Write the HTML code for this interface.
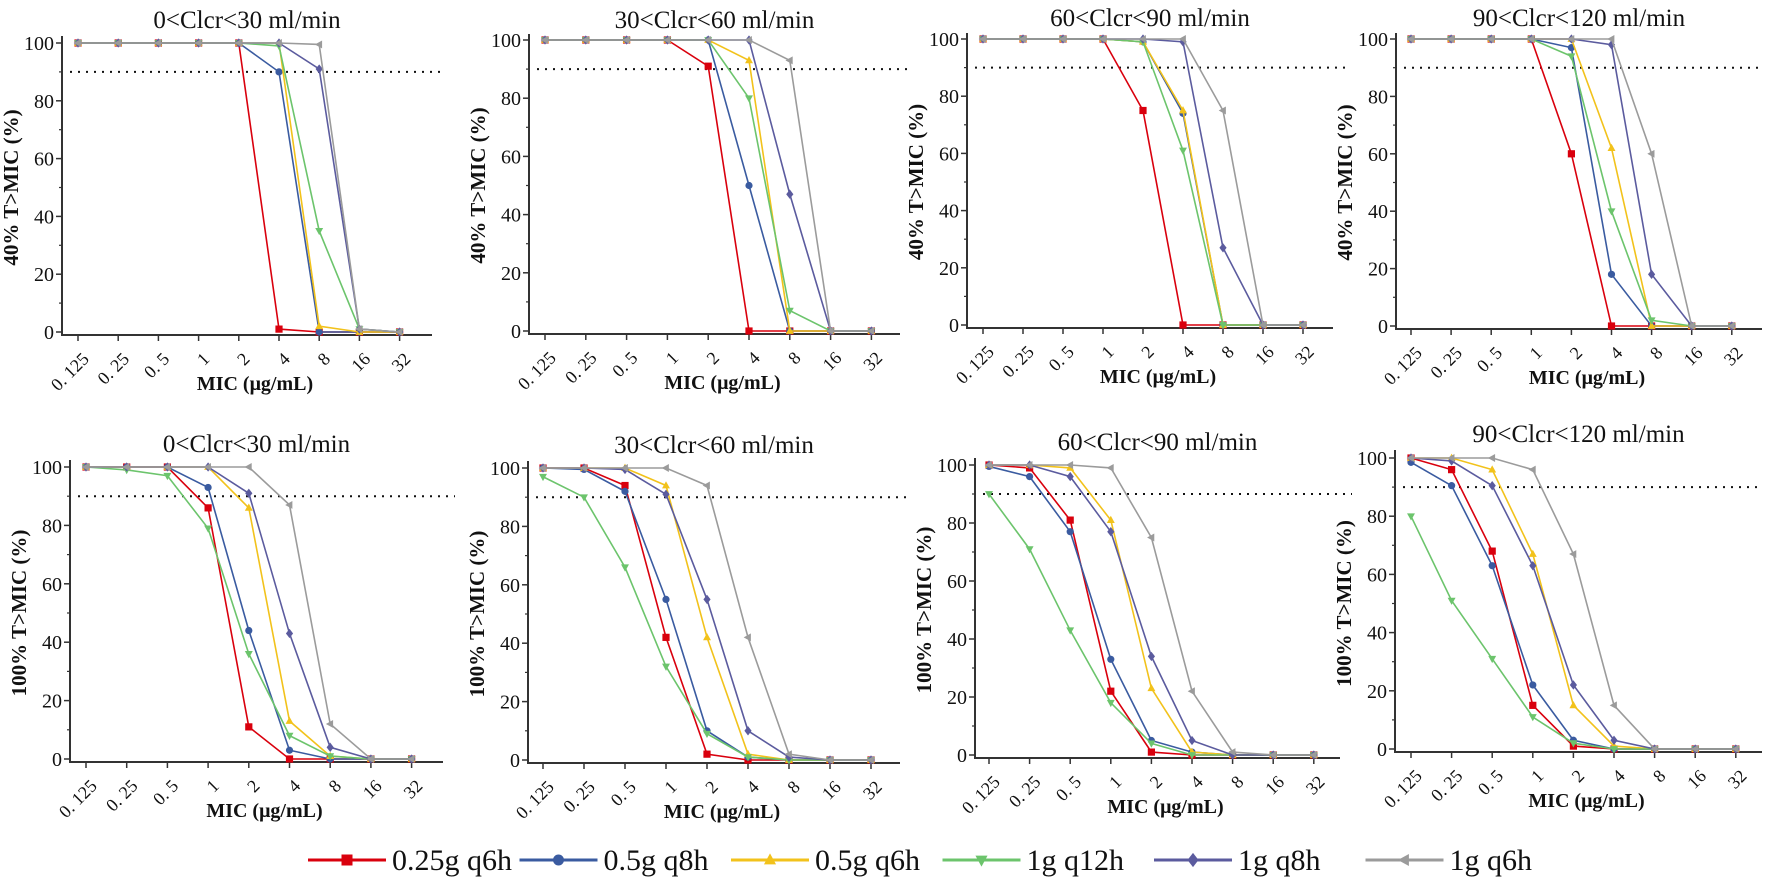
<!DOCTYPE html>
<html><head><meta charset="utf-8">
<style>
html,body{margin:0;padding:0;background:#fff;}
svg{display:block;font-family:"Liberation Serif",serif;}
</style></head>
<body>
<svg id="chart" width="1772" height="881" viewBox="0 0 1772 881" xmlns="http://www.w3.org/2000/svg"></svg>
<script>
// ---- data ----
const categories = ["0. 125","0. 25","0. 5","1","2","4","8","16","32"];
const yTicks = [0,20,40,60,80,100];
const seriesNames = ["0.25g q6h","0.5g q8h","0.5g q6h","1g q12h","1g q8h","1g q6h"];
const targetLine = 90;
const titles = ["0<Clcr<30 ml/min","30<Clcr<60 ml/min","60<Clcr<90 ml/min","90<Clcr<120 ml/min"];
// top row: 40% T>MIC
const p1 = [[100,100,100,100,100,1,0,0,0],[100,100,100,100,100,90,0,0,0],[100,100,100,100,100,100,2,0,0],[100,100,100,100,100,99,35,1,0],[100,100,100,100,100,100,91,1,0],[100,100,100,100,100,100,99.5,1,0]];
const p2 = [[100,100,100,100,91,0,0,0,0],[100,100,100,100,100,50,0,0,0],[100,100,100,100,100,93,0,0,0],[100,100,100,100,100,80,7,0,0],[100,100,100,100,100,100,47,0,0],[100,100,100,100,100,100,93,0,0]];
const p3 = [[100,100,100,100,75,0,0,0,0],[100,100,100,100,99,74,0,0,0],[100,100,100,100,99,75,0,0,0],[100,100,100,100,99,61,0,0,0],[100,100,100,100,100,99,27,0,0],[100,100,100,100,100,100,75,0,0]];
const p4 = [[100,100,100,100,60,0,0,0,0],[100,100,100,100,97,18,0,0,0],[100,100,100,100,100,62,0,0,0],[100,100,100,100,94,40,2,0,0],[100,100,100,100,100,98,18,0,0],[100,100,100,100,100,100,60,0,0]];
// bottom row: 100% T>MIC
const p5 = [[100,100,100,86,11,0,0,0,0],[100,100,100,93,44,3,0,0,0],[100,100,100,100,86,13,1,0,0],[100,99,97,79,36,8,1,0,0],[100,100,100,100,91,43,4,0,0],[100,100,100,100,100,87,12,0,0]];
const p6 = [[100,100,94,42,2,0,0,0,0],[100,99.5,92,55,10,1,0,0,0],[100,100,100,94,42,2,0,0,0],[97,90,66,32,9,1,0,0,0],[100,100,99.5,91,55,10,1,0,0],[100,100,100,100,94,42,2,0,0]];
const p7 = [[100,99,81,22,1,0,0,0,0],[99.5,96,77,33,5,1,0,0,0],[100,100,99,81,23,1,0,0,0],[90,71,43,18,4,0,0,0,0],[100,100,96,77,34,5,0,0,0],[100,100,100,99,75,22,1,0,0]];
const p8 = [[100,96,68,15,1,0,0,0,0],[98.5,90.5,63,22,3,0,0,0,0],[100,100,96,67,15,1,0,0,0],[80,51,31,11,2,0,0,0,0],[100,99,90.5,63,22,3,0,0,0],[100,100,100,96,67,15,0,0,0]];

// ---- layout ----
const colors = ["#d9000d","#3a5ba0","#f2c21b","#6cc46c","#5b5b9e","#9b9b9b"];
const markers = ["square","circle","up","down","diamond","left"];
const panels = [
 {d:p1,t:0,yl:"40% T>MIC (%)",ax:62,t0:78,dx:40.2,y0:332,y100:43,right:432,ty:28,top:36},
 {d:p2,t:1,yl:"40% T>MIC (%)",ax:529,t0:545,dx:40.8,y0:331,y100:40,right:900,ty:28,top:34},
 {d:p3,t:2,yl:"40% T>MIC (%)",ax:967,t0:983,dx:40.0,y0:325,y100:39,right:1333,ty:26,top:33},
 {d:p4,t:3,yl:"40% T>MIC (%)",ax:1396,t0:1411,dx:40.1,y0:326,y100:39,right:1762,ty:26,top:33},
 {d:p5,t:0,yl:"100% T>MIC (%)",ax:70,t0:86,dx:40.7,y0:759,y100:467,right:443,ty:452,top:460},
 {d:p6,t:1,yl:"100% T>MIC (%)",ax:528,t0:543,dx:41.0,y0:760,y100:468,right:900,ty:453,top:461},
 {d:p7,t:2,yl:"100% T>MIC (%)",ax:975,t0:989,dx:40.6,y0:755,y100:465,right:1340,ty:450,top:458},
 {d:p8,t:3,yl:"100% T>MIC (%)",ax:1395,t0:1411,dx:40.6,y0:749,y100:458,right:1762,ty:442,top:450}
];
const NS="http://www.w3.org/2000/svg";
const svg=document.getElementById('chart');
function mk(tag,attrs,parent){const e=document.createElementNS(NS,tag);for(const k in attrs)e.setAttribute(k,attrs[k]);(parent||svg).appendChild(e);return e;}
function marker(g,type,x,y,c,s){
  let e;
  if(type==="square"){e=mk('rect',{x:x-s,y:y-s,width:2*s,height:2*s,fill:c},g);}
  else if(type==="circle"){e=mk('circle',{cx:x,cy:y,r:s,fill:c},g);}
  else{let pts;
    if(type==="up")pts=[[x,y-s*1.2],[x-s*1.1,y+s*0.8],[x+s*1.1,y+s*0.8]];
    else if(type==="down")pts=[[x,y+s*1.2],[x-s*1.1,y-s*0.8],[x+s*1.1,y-s*0.8]];
    else if(type==="diamond")pts=[[x,y-s*1.3],[x+s,y],[x,y+s*1.3],[x-s,y]];
    else pts=[[x-s*1.2,y],[x+s*0.8,y-s*1.1],[x+s*0.8,y+s*1.1]];
    e=mk('polygon',{points:pts.map(p=>p.join(',')).join(' '),fill:c},g);}
  return e;
}
panels.forEach((P,pi)=>{
  const g=mk('g',{});
  
  
  const xs=i=>P.t0+i*P.dx;
  const ys=v=>P.y0-(v/100)*(P.y0-P.y100);
  const midX=(P.ax+P.right)/2;
  const title=mk('text',{x:midX,y:P.ty,'text-anchor':'middle','font-size':25,fill:'#111'},g);
  title.textContent=titles[P.t];
  
  
  const ya=mk('line',{x1:P.ax,y1:P.top,x2:P.ax,y2:P.y0+3,stroke:'#333','stroke-width':2},g);
  
  
  const xa=mk('line',{x1:P.ax-1,y1:P.y0+3,x2:P.right,y2:P.y0+3,stroke:'#333','stroke-width':2},g);
  
  
  for(let v=10;v<=100;v+=20){mk('line',{x1:P.ax-3,y1:ys(v),x2:P.ax,y2:ys(v),stroke:'#333','stroke-width':1.2},g);}
  yTicks.forEach(v=>{
    mk('line',{x1:P.ax-6,y1:ys(v),x2:P.ax,y2:ys(v),stroke:'#333','stroke-width':1.5},g);
    const t=mk('text',{x:P.ax-8,y:ys(v)+7,'text-anchor':'end','font-size':20,fill:'#111'},g);
    t.textContent=v;
    
    
  });
  categories.forEach((c,i)=>{
    mk('line',{x1:xs(i),y1:P.y0+3,x2:xs(i),y2:P.y0+9,stroke:'#333','stroke-width':1.5},g);
    const t=mk('text',{x:xs(i)+12,y:P.y0+28,'text-anchor':'end','font-size':18,fill:'#111',transform:`rotate(-45 ${xs(i)+12} ${P.y0+28})`},g);
    t.textContent=c;
    
    
  });
  const xl=mk('text',{x:midX+8,y:P.y0+58,'text-anchor':'middle','font-size':20,'font-weight':'bold',fill:'#111'},g);
  xl.textContent="MIC (μg/mL)";
  
  
  const yc=(P.y0+P.y100)/2, yx=P.ax-44;
  const yl=mk('text',{x:yx,y:yc,'text-anchor':'middle','font-size':21,'font-weight':'bold',fill:'#111',transform:`rotate(-90 ${yx} ${yc})`},g);
  yl.textContent=P.yl;
  
  
  const dl=mk('line',{x1:P.ax+8,y1:ys(targetLine),x2:P.right+(P.t<3?12:0),y2:ys(targetLine),stroke:'#111','stroke-width':2,'stroke-dasharray':'2 6'},g);
  
  
  P.d.forEach((vals,si)=>{
    const sg=mk('g',{},g);
    
    
    const pl=mk('polyline',{points:vals.map((v,i)=>xs(i)+','+ys(v)).join(' '),fill:'none',stroke:colors[si],'stroke-width':1.6},sg);
    
    
    vals.forEach((v,i)=>{
      const m=marker(sg,markers[si],xs(i),ys(v),colors[si],3.6);
      
      
    });
  });
});
const lg=mk('g',{});


seriesNames.forEach((n,i)=>{
  const x=308+i*211.5, y=860;
  const eg=mk('g',{},lg);
  
  
  mk('line',{x1:x,y1:y,x2:x+78,y2:y,stroke:colors[i],'stroke-width':3},eg);
  marker(eg,markers[i],x+39,y,colors[i],5.5);
  const t=mk('text',{x:x+84,y:y+10,'font-size':30,fill:'#111'},eg);
  t.textContent=n;
});
</script>
</body></html>
